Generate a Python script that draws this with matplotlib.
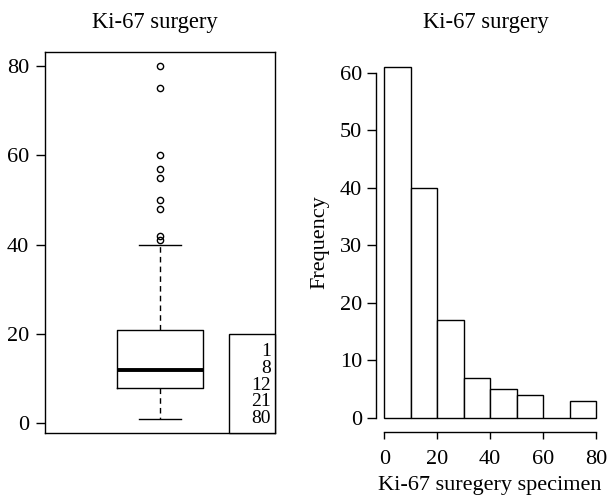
import matplotlib
matplotlib.use("Agg")
import matplotlib.pyplot as plt
from matplotlib.patches import Rectangle

plt.rcParams['font.family'] = ['Liberation Serif', 'DejaVu Serif']
plt.rcParams['font.size'] = 16

# boxplot summary for Ki-67 surgery
whis_lo, q1, med, q3, whis_hi = 1, 8, 12, 21, 40
outliers = [41, 42, 48, 50, 55, 57, 60, 75, 80]
summary_vals = [1, 8, 12, 21, 80]

# histogram of Ki-67 surgery specimen
bin_edges = [0, 10, 20, 30, 40, 50, 60, 70, 80]
counts = [61, 40, 17, 7, 5, 4, 0, 3]

W, H = 607, 501
fig = plt.figure(figsize=(W / 100, H / 100), dpi=100)

def px_axes(x0, y0, x1, y1):
    return fig.add_axes([x0 / W, 1 - y1 / H, (x1 - x0) / W, (y1 - y0) / H])

# ---- left: boxplot
ax1 = px_axes(45, 52, 275, 433)
stats = [dict(whislo=whis_lo, q1=q1, med=med, q3=q3, whishi=whis_hi,
              fliers=outliers)]
ax1.bxp(stats, positions=[1], widths=0.37, capwidths=0.18, showfliers=True,
        boxprops=dict(color='black', lw=1.0),
        whiskerprops=dict(color='black', lw=1.0, linestyle=(0, (4, 3))),
        capprops=dict(color='black', lw=1.0),
        medianprops=dict(color='black', lw=2.8, solid_capstyle='butt'),
        flierprops=dict(marker='o', markersize=4.5, markerfacecolor='none',
                        markeredgecolor='black', markeredgewidth=1.0))
ax1.set_xlim(0.5, 1.5)
ax1.set_ylim(-2.16, 83.16)
ax1.set_yticks([0, 20, 40, 60, 80])
ax1.set_xticks([])
ax1.tick_params(axis='y', direction='out', length=6.3, width=1.0, pad=5)
for s in ax1.spines.values():
    s.set_linewidth(1.0)
ax1.set_title('Ki-67 surgery', pad=17.5, fontsize=16.3, x=0.477)

# summary box in the corner
ax1.add_patch(Rectangle((0.80, 0.0), 0.20, 0.26, transform=ax1.transAxes,
                        facecolor='white', edgecolor='black', lw=1.0,
                        clip_on=False, zorder=3))
text_y = [0.218, 0.174, 0.131, 0.087, 0.044]
for v, ty in zip(summary_vals, text_y):
    ax1.text(0.981, ty, str(v), transform=ax1.transAxes, ha='right',
             va='center_baseline', fontsize=14, zorder=4)

# ---- right: histogram
ax2 = px_axes(376, 53, 604.5, 432)
lefts = bin_edges[:-1]
ax2.bar(lefts, counts, width=10, align='edge', facecolor='white',
        edgecolor='black', lw=1.0)
ax2.set_xlim(-3.2, 83.2)
ax2.set_ylim(-2.44, 63.44)
ax2.set_xticks([0, 20, 40, 60, 80])
ax2.set_yticks([0, 10, 20, 30, 40, 50, 60])
ax2.spines['top'].set_visible(False)
ax2.spines['right'].set_visible(False)
ax2.spines['left'].set_bounds(0, 60)
ax2.spines['bottom'].set_bounds(0, 80)
ax2.spines['left'].set_linewidth(1.0)
ax2.spines['bottom'].set_linewidth(1.0)
ax2.tick_params(axis='y', direction='out', length=6.3, width=1.0, pad=3.6)
ax2.tick_params(axis='x', direction='out', length=5.2, width=1.0, pad=8)
ax2.set_title('Ki-67 surgery', pad=18.2, fontsize=16.3, x=0.48)
ax2.set_ylabel('Frequency', labelpad=8)
ax2.set_xlabel('Ki-67 suregery specimen', labelpad=5)

fig.savefig('out.png', dpi=100)
